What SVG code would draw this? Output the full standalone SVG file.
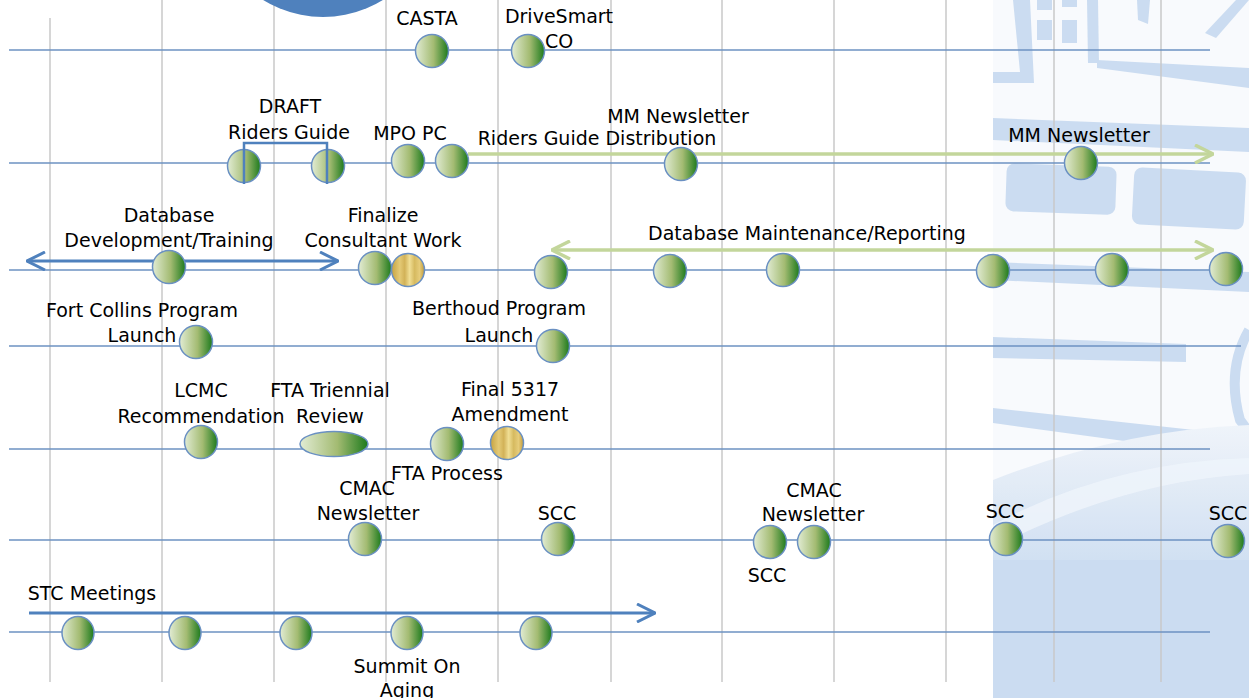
<svg xmlns="http://www.w3.org/2000/svg" width="1249" height="698" viewBox="0 0 1249 698">
<style>
text{font-family:"DejaVu Sans","Liberation Sans",sans-serif;font-size:19px;fill:#000;text-anchor:middle}
.grid{stroke:#c8c8c8;stroke-width:1.5}
.row{stroke:#6d92c2;stroke-width:1.5;fill:none}
.dot{fill:url(#g);stroke:#6a90c2;stroke-width:1.5}
.gold{fill:url(#au);stroke:#6a90c2;stroke-width:1.5}
.garr{stroke:#c3d69b;stroke-width:3.5;fill:none}
.barr{stroke:#4f81bd;stroke-width:3;fill:none}
.wm{fill:#c6d9f0}
</style>
<defs>
<linearGradient id="g" x1="0" y1="0" x2="1" y2="0">
<stop offset="0" stop-color="#e2ecd4"/>
<stop offset="0.55" stop-color="#a3bb72"/>
<stop offset="1" stop-color="#1c7a1c"/>
</linearGradient>
<linearGradient id="au" x1="0" y1="0" x2="1" y2="0">
<stop offset="0" stop-color="#c6a240"/>
<stop offset="0.25" stop-color="#e4ca76"/>
<stop offset="0.4" stop-color="#d2b258"/>
<stop offset="0.55" stop-color="#f0de94"/>
<stop offset="0.7" stop-color="#d6ba60"/>
<stop offset="0.85" stop-color="#e6cc7a"/>
<stop offset="1" stop-color="#c09a3a"/>
</linearGradient>
<linearGradient id="wmg" x1="0" y1="0" x2="0" y2="1">
<stop offset="0" stop-color="#eef3fa"/>
<stop offset="0.55" stop-color="#c9dbf0"/>
<stop offset="1" stop-color="#c6d9ef"/>
</linearGradient>
<marker id="ga" markerUnits="userSpaceOnUse" viewBox="0 0 20 20" refX="19" refY="10" markerWidth="20" markerHeight="20" orient="auto-start-reverse">
<path d="M1,1 L19,10 L1,19" fill="none" stroke="#c3d69b" stroke-width="3.5"/>
</marker>
<marker id="ba" markerUnits="userSpaceOnUse" viewBox="0 0 20 20" refX="19" refY="10" markerWidth="20" markerHeight="20" orient="auto-start-reverse">
<path d="M1,1 L19,10 L1,19" fill="none" stroke="#4f81bd" stroke-width="3"/>
</marker>
</defs>
<rect width="1249" height="698" fill="#fff"/>
<g id="watermark" opacity="0.9">
<rect x="993" y="0" width="256" height="698" fill="#f8fafd"/>
<path class="wm" d="M1013,0 H1030 L1034,83 H993 V72 H1020 Z"/>
<rect class="wm" x="1037" y="0" width="15" height="10"/>
<rect class="wm" x="1037" y="20" width="15" height="20"/>
<rect class="wm" x="1062" y="0" width="15" height="7"/>
<rect class="wm" x="1062" y="20" width="15" height="23"/>
<path class="wm" d="M1087,0 H1098 L1099,63 H1088 Z"/>
<path class="wm" d="M1137,0 H1150 L1148,24 L1138,20 Z"/>
<path class="wm" d="M1236,0 H1249 L1216,38 L1205,33 Z"/>
<path class="wm" d="M1097,60 L1249,68 L1249,88 L1097,68 Z"/>
<path class="wm" d="M993,118 L1249,128 L1249,152 L993,140 Z"/>
<rect class="wm" x="1006" y="165" width="110" height="48" rx="8" transform="rotate(2 1060 189)"/>
<rect class="wm" x="1133" y="170" width="112" height="57" rx="8" transform="rotate(3 1190 198)"/>
<path class="wm" d="M993,262 L1249,272 L1249,292 L993,280 Z"/>
<path class="wm" d="M993,337 L1186,344 L1186,362 L993,358 Z"/>
<path d="M1249,330 Q1226,370 1240,420 L1249,432" fill="none" stroke="#c6d9f0" stroke-width="10"/>
<path class="wm" d="M993,408 L1249,436 L1249,458 L993,423 Z"/>
<path d="M993,480 Q1120,430 1249,425 L1249,698 L993,698 Z" fill="url(#wmg)"/>
<path d="M993,525 Q1110,462 1249,458 L1249,474 Q1120,482 993,548 Z" fill="#eef4fb" opacity="0.8"/>
<rect class="wm" x="993" y="560" width="256" height="138"/>
</g>
<g id="grid">
<line class="grid" x1="50" y1="18" x2="50" y2="682"/>
<line class="grid" x1="162" y1="0" x2="162" y2="682"/>
<line class="grid" x1="274" y1="0" x2="274" y2="682"/>
<line class="grid" x1="386" y1="0" x2="386" y2="682"/>
<line class="grid" x1="498" y1="0" x2="498" y2="682"/>
<line class="grid" x1="611" y1="0" x2="611" y2="682"/>
<line class="grid" x1="722" y1="0" x2="722" y2="682"/>
<line class="grid" x1="834" y1="0" x2="834" y2="682"/>
<line class="grid" x1="946" y1="0" x2="946" y2="682"/>
<line class="grid" x1="1054" y1="0" x2="1054" y2="682"/>
<line class="grid" x1="1161" y1="0" x2="1161" y2="682"/>
</g>
<circle id="badge" cx="323" cy="-97" r="114" fill="#4f81bd"/>
<g id="connectors">
<line class="row" x1="9" y1="50" x2="1210" y2="50"/>
<line class="row" x1="9" y1="163" x2="1210" y2="163"/>
<line class="row" x1="9" y1="270" x2="1226" y2="270"/>
<line class="row" x1="9" y1="346" x2="1241" y2="346"/>
<line class="row" x1="9" y1="449" x2="1210" y2="449"/>
<line class="row" x1="9" y1="540" x2="1228" y2="540"/>
<line class="row" x1="9" y1="632" x2="1210" y2="632"/>
<line class="garr" x1="468" y1="154" x2="1213" y2="154" marker-end="url(#ga)"/>
<line class="barr" x1="27" y1="261" x2="338" y2="261" marker-start="url(#ba)" marker-end="url(#ba)"/>
<line class="garr" x1="552" y1="250" x2="1213" y2="250" marker-start="url(#ga)" marker-end="url(#ga)"/>
<line class="barr" x1="29" y1="613" x2="655" y2="613" marker-end="url(#ba)"/>
</g>
<g id="casta"><circle class="dot" cx="432" cy="51" r="16.5"/><text x="427" y="25">CASTA</text></g>
<g id="drivesmart"><circle class="dot" cx="528" cy="51" r="16.5"/><text x="559" y="23">DriveSmart</text><text x="559" y="48">CO</text></g>
<g id="draft-riders-guide">
<circle class="dot" cx="244" cy="166" r="16.5"/><circle class="dot" cx="328" cy="166" r="16.5"/>
<path d="M244,184 V143 H327 V184" fill="none" stroke="#4f81bd" stroke-width="2.5"/>
<text x="290" y="113">DRAFT</text><text x="289" y="139">Riders Guide</text>
</g>
<g id="mpo-pc"><circle class="dot" cx="408" cy="161" r="16.5"/><text x="410" y="140">MPO PC</text></g>
<g id="riders-guide-distribution"><circle class="dot" cx="452" cy="161" r="16.5"/><text x="597" y="145">Riders Guide Distribution</text></g>
<g id="mm-newsletter-1"><circle class="dot" cx="681" cy="164" r="16.5"/><text x="678" y="123">MM Newsletter</text></g>
<g id="mm-newsletter-2"><circle class="dot" cx="1081" cy="163" r="16.5"/><text x="1079" y="142">MM Newsletter</text></g>
<g id="database-dev"><circle class="dot" cx="169" cy="267" r="16.5"/><text x="169" y="222">Database</text><text x="169" y="247">Development/Training</text></g>
<g id="finalize-consultant"><circle class="dot" cx="375" cy="268" r="16.5"/><circle class="gold" cx="408" cy="270" r="16.5"/><text x="383" y="222">Finalize</text><text x="383" y="247">Consultant Work</text></g>
<g id="database-maintenance">
<circle class="dot" cx="551" cy="272" r="16.5"/><circle class="dot" cx="670" cy="271" r="16.5"/><circle class="dot" cx="783" cy="270" r="16.5"/>
<circle class="dot" cx="993" cy="271" r="16.5"/><circle class="dot" cx="1112" cy="270" r="16.5"/><circle class="dot" cx="1226" cy="269" r="16.5"/>
<text x="807" y="240">Database Maintenance/Reporting</text>
</g>
<g id="fort-collins"><circle class="dot" cx="196" cy="342" r="16.5"/><text x="142" y="317">Fort Collins Program</text><text x="142" y="342">Launch</text></g>
<g id="berthoud"><circle class="dot" cx="553" cy="346" r="16.5"/><text x="499" y="315">Berthoud Program</text><text x="499" y="342">Launch</text></g>
<g id="lcmc"><circle class="dot" cx="201" cy="442" r="16.5"/><text x="201" y="397">LCMC</text><text x="201" y="423">Recommendation</text></g>
<g id="fta-triennial"><ellipse class="dot" cx="334" cy="444" rx="34" ry="12.5"/><text x="330" y="397">FTA Triennial</text><text x="330" y="423">Review</text></g>
<g id="fta-process"><circle class="dot" cx="447" cy="444" r="16.5"/><text x="447" y="480">FTA Process</text></g>
<g id="final-5317"><circle class="gold" cx="507" cy="443" r="16.5"/><text x="510" y="396">Final 5317</text><text x="510" y="421">Amendment</text></g>
<g id="cmac-1"><circle class="dot" cx="365" cy="539" r="16.5"/><text x="367" y="495">CMAC</text><text x="368" y="520">Newsletter</text></g>
<g id="scc-1"><circle class="dot" cx="558" cy="539" r="16.5"/><text x="557" y="520">SCC</text></g>
<g id="scc-2"><circle class="dot" cx="770" cy="542" r="16.5"/><text x="767" y="582">SCC</text></g>
<g id="cmac-2"><circle class="dot" cx="814" cy="542" r="16.5"/><text x="814" y="497">CMAC</text><text x="813" y="521">Newsletter</text></g>
<g id="scc-3"><circle class="dot" cx="1006" cy="539" r="16.5"/><text x="1005" y="518">SCC</text></g>
<g id="scc-4"><circle class="dot" cx="1228" cy="541" r="16.5"/><text x="1228" y="520">SCC</text></g>
<g id="stc-meetings">
<ellipse class="dot" cx="78" cy="633" rx="16" ry="16.5"/><ellipse class="dot" cx="185" cy="633" rx="16" ry="16.5"/><ellipse class="dot" cx="296" cy="633" rx="16" ry="16.5"/>
<ellipse class="dot" cx="536" cy="633" rx="16" ry="16.5"/>
<text x="92" y="600">STC Meetings</text>
</g>
<g id="summit-on-aging"><ellipse class="dot" cx="407" cy="633" rx="16" ry="16.5"/><text x="407" y="673">Summit On</text><text x="407" y="697">Aging</text></g>
</svg>
